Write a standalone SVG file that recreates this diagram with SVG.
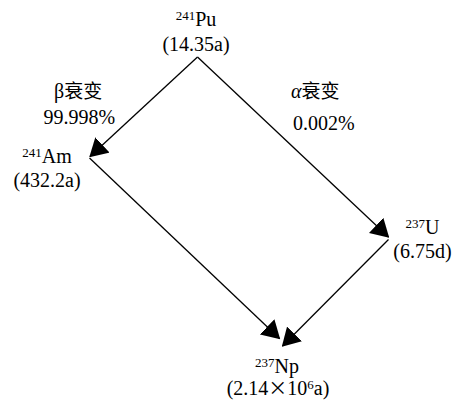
<svg xmlns="http://www.w3.org/2000/svg" width="458" height="401" viewBox="0 0 458 401" font-family="Liberation Serif, serif" font-size="20">
<style>
.c{text-anchor:middle}
.sup{font-size:13px}
.cjk{font-family:'Noto Sans CJK SC',sans-serif;font-size:19px}
.ln{stroke:#000;stroke-width:1.3;fill:none;marker-end:url(#ah)}
</style>
<defs>
<marker id="ah" markerUnits="userSpaceOnUse" viewBox="0 0 18 21" refX="17" refY="10.5" markerWidth="18" markerHeight="21" orient="auto">
<path d="M0,0 L18,10.5 L0,21 z" fill="#000"/>
</marker>
</defs>
<g id="connectors">
<path class="ln" d="M197.5,57 L90,156.5"/>
<path class="ln" d="M197.5,57 L388.5,237"/>
<path class="ln" d="M89.5,158 L279.5,338.5"/>
<path class="ln" d="M388.5,239.5 L282.5,346"/>
</g>
<g id="pu">
<text class="c" x="196" y="26"><tspan class="sup" dy="-6">241</tspan><tspan dy="6">Pu</tspan></text>
<text class="c" x="196" y="51">(14.35a)</text>
</g>
<g id="am">
<text class="c" x="47" y="162.5"><tspan class="sup" dy="-6">241</tspan><tspan dy="6">Am</tspan></text>
<text class="c" x="47" y="186.5">(432.2a)</text>
</g>
<g id="u">
<text class="c" x="422.5" y="234"><tspan class="sup" dy="-6">237</tspan><tspan dy="6">U</tspan></text>
<text class="c" x="422.5" y="258">(6.75d)</text>
</g>
<g id="np">
<text class="c" x="277" y="373"><tspan class="sup" dy="-6">237</tspan><tspan dy="6">Np</tspan></text>
<text class="c" x="278" y="395">(2.14<tspan class="cjk">×</tspan>10<tspan class="sup" dy="-6">6</tspan><tspan dy="6">a)</tspan></text>
</g>
<g id="beta-label">
<text x="54" y="98">β<tspan class="cjk">衰变</tspan></text>
<text x="43.5" y="123.5">99.998%</text>
</g>
<g id="alpha-label">
<text x="291" y="98"><tspan font-style="italic">α</tspan><tspan class="cjk">衰变</tspan></text>
<text x="293" y="130">0.002%</text>
</g>
</svg>
